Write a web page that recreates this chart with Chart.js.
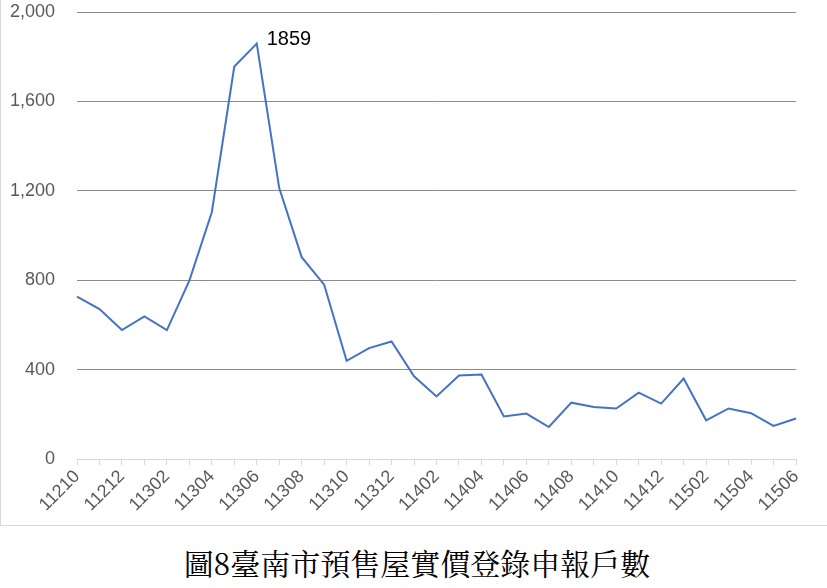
<!DOCTYPE html>
<html>
<head>
<meta charset="utf-8">
<title>圖8臺南市預售屋實價登錄申報戶數</title>
<script src="https://cdn.jsdelivr.net/npm/chart.js@4.4.1/dist/chart.umd.min.js"></script>
<style>
  html, body { margin: 0; padding: 0; background: #fff; }
  #box {
    position: absolute; left: 0; top: 0;
    width: 827px; height: 526px;
    box-sizing: border-box;
    border-left: 1px solid #d9d9d9;
    border-bottom: 1px solid #d9d9d9;
  }
  #title {
    position: absolute; left: 0; top: 540px; width: 834px;
    text-align: center;
    font-family: "Noto Serif CJK TC", "Noto Sans CJK TC", serif;
    font-size: 30px; color: #000;
  }
</style>
</head>
<body>
<div id="box"><canvas id="chart"></canvas></div>
<div id="title">圖8臺南市預售屋實價登錄申報戶數</div>
<script>
// 年月 (民國)
months = ["11210","11211","11212",
  "11301","11302","11303","11304","11305","11306","11307","11308","11309","11310","11311","11312",
  "11401","11402","11403","11404","11405","11406","11407","11408","11409","11410","11411","11412",
  "11501","11502","11503","11504","11505","11506"]
// 申報戶數
counts = [726, 671, 577,
  638, 577, 798, 1104, 1756, 1859, 1212, 903, 780, 439, 496, 526,
  370, 280, 374, 378, 190, 203, 143, 252, 233, 226, 297, 248,
  360, 173, 226, 205, 148, 181]
yTicks = [0, 400, 800, 1200, 1600, 2000]

// label only the peak value, like the original
peakLabel = {
  id: "peakLabel",
  afterDatasetsDraw(chart) {
    var meta = chart.getDatasetMeta(0)
    var i = counts.indexOf(Math.max.apply(null, counts))
    var pt = meta.data[i]
    var ctx = chart.ctx
    ctx.save()
    ctx.font = "20px 'Liberation Sans'"
    ctx.fillStyle = "#000"
    ctx.textAlign = "left"
    ctx.textBaseline = "middle"
    ctx.fillText(String(counts[i]), pt.x + 10, pt.y - 4)
    ctx.restore()
  }
}

chart = new Chart(document.getElementById("chart"), {
  type: "line",
  data: {
    labels: months,
    datasets: [{
      data: counts,
      borderColor: "#4472c4",
      borderWidth: 2,
      pointRadius: 0,
      fill: false,
      tension: 0
    }]
  },
  options: {
    responsive: true,
    maintainAspectRatio: false,
    animation: false,
    layout: { padding: { top: 12, right: 31, left: 0, bottom: 0 } },
    plugins: {
      legend: { display: false },
      tooltip: { enabled: false }
    },
    scales: {
      x: {
        offset: false,
        grid: { drawOnChartArea: false, drawTicks: true, tickLength: 6, color: "#d9d9d9" },
        border: { color: "#d9d9d9", width: 1 },
        ticks: {
          autoSkip: false,
          minRotation: 45,
          maxRotation: 45,
          padding: 1,
          color: "#595959",
          font: { family: "Liberation Sans", size: 18 },
          callback: function (v, i) { return i % 2 === 0 ? months[i] : "" }
        },
        afterFit: function (s) { s.height = 66 }
      },
      y: {
        min: 0,
        max: 2000,
        afterBuildTicks: function (s) { s.ticks = yTicks.map(function (v) { return { value: v } }) },
        grid: { color: "#8c8c8c", drawTicks: false, lineWidth: 1 },
        border: { display: false },
        ticks: {
          padding: 22,
          color: "#595959",
          font: { family: "Liberation Sans", size: 18 },
          callback: function (v) { return v.toLocaleString("en-US") }
        },
        afterFit: function (s) {
          s.width = 76
          s.paddingTop = 0
          s.paddingBottom = 0
        }
      }
    }
  },
  plugins: [peakLabel]
})
</script>
</body>
</html>
